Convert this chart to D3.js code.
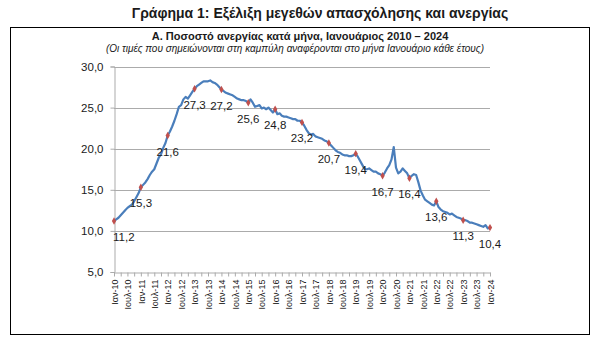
<!DOCTYPE html>
<html>
<head>
<meta charset="utf-8">
<script src="https://cdn.jsdelivr.net/npm/d3@7"></script>
<style>
  html, body { margin: 0; padding: 0; background: #fff; }
  svg { display: block; font-family: "Liberation Sans", Arial, sans-serif; }
</style>
</head>
<body>
<svg id="chart" width="602" height="340"></svg>
<script>
// Monthly unemployment rate (%), January 2010 – January 2024, one row per year
const rates2010 = [11.2, 11.4, 11.6, 11.9, 12.2, 12.5, 12.8, 13.0, 13.2, 13.6, 14.1, 14.6];
const rates2011 = [15.3, 15.6, 15.9, 16.3, 16.8, 17.2, 17.5, 18.2, 18.9, 19.3, 20.1, 20.7];
const rates2012 = [21.6, 22.1, 22.7, 23.4, 24.2, 25.1, 25.3, 26.0, 26.3, 26.1, 26.5, 26.9];
const rates2013 = [27.3, 27.6, 27.8, 28.0, 28.2, 28.2, 28.2, 28.3, 28.1, 28.0, 27.8, 27.5];
const rates2014 = [27.2, 27.0, 26.8, 26.7, 26.6, 26.5, 26.3, 26.1, 26.0, 25.9, 25.9, 25.8];
const rates2015 = [25.6, 26.0, 25.6, 25.1, 25.2, 25.3, 24.9, 25.0, 24.8, 25.0, 24.7, 24.4];
const rates2016 = [24.8, 24.2, 24.3, 24.0, 23.9, 23.9, 23.8, 23.7, 23.6, 23.6, 23.4, 23.4];
const rates2017 = [23.2, 22.8, 22.3, 21.9, 21.7, 21.8, 21.5, 21.4, 21.3, 21.2, 21.0, 20.9];
const rates2018 = [20.7, 20.4, 20.1, 19.8, 19.6, 19.5, 19.3, 19.2, 19.2, 19.1, 19.1, 19.2];
const rates2019 = [19.4, 19.0, 18.5, 18.0, 17.5, 17.5, 17.6, 17.4, 17.2, 17.2, 17.0, 16.9];
const rates2020 = [16.7, 17.1, 17.6, 18.0, 18.7, 20.2, 17.7, 17.0, 17.2, 17.6, 17.3, 17.0];
const rates2021 = [16.4, 16.7, 16.9, 16.8, 15.9, 14.9, 14.3, 13.8, 13.6, 13.4, 13.2, 13.1];
const rates2022 = [13.6, 12.9, 12.6, 12.4, 12.3, 12.2, 12.0, 12.1, 11.9, 11.7, 11.6, 11.5];
const rates2023 = [11.3, 11.3, 11.2, 11.0, 11.0, 10.9, 10.8, 10.7, 10.6, 10.5, 10.7, 10.3];
const rates2024 = [10.4];

// Values printed next to the January markers
const januaryValues = [11.2, 15.3, 21.6, 27.3, 27.2, 25.6, 24.8, 23.2, 20.7, 19.4, 16.7, 16.4, 13.6, 11.3, 10.4];

const monthNames = ["Ιαν", "Φεβ", "Μαρ", "Απρ", "Μαϊ", "Ιουν", "Ιουλ", "Αυγ", "Σεπ", "Οκτ", "Νοε", "Δεκ"];
const startYear = 2010;
const yTicks = [5, 10, 15, 20, 25, 30];

const titleText = "Γράφημα 1: Εξέλιξη μεγεθών απασχόλησης και ανεργίας";
const chartTitle = "Α. Ποσοστό ανεργίας κατά μήνα, Ιανουάριος 2010 – 2024";
const chartNote = "(Οι τιμές που σημειώνονται στη καμπύλη αναφέρονται στο μήνα Ιανουάριο κάθε έτους)";

const rates = [].concat(rates2010, rates2011, rates2012, rates2013, rates2014, rates2015,
  rates2016, rates2017, rates2018, rates2019, rates2020, rates2021, rates2022, rates2023, rates2024);

// Category labels such as "Ιαν-10", "Ιουλ-10"
const periods = rates.map((_, i) => {
  const yy = String((startYear + Math.floor(i / 12)) % 100).padStart(2, "0");
  return monthNames[i % 12] + "-" + yy;
});
const data = rates.map((v, i) => ({ period: periods[i], value: v, index: i }));

const svg = d3.select("#chart");
const comma = d3.formatLocale({ decimal: ",", thousands: ".", grouping: [3], currency: ["", "€"] }).format(".1f");

const plot = { left: 114, right: 490, top: 66.5, bottom: 272 };

const x = d3.scalePoint().domain(periods).range([plot.left, plot.right]);
const y = d3.scaleLinear().domain([5, 30]).range([plot.bottom, plot.top]);

const gridColor = "#ababab";
const textColor = "#1a1a1a";

// Titles
svg.append("text").attr("x", 320).attr("y", 18).attr("text-anchor", "middle")
  .attr("font-size", 14).attr("font-weight", "bold").attr("fill", textColor).text(titleText);

svg.append("rect").attr("x", 10.5).attr("y", 27.5).attr("width", 579).attr("height", 307)
  .attr("fill", "none").attr("stroke", "#000").attr("stroke-width", 1);

svg.append("text").attr("x", 300).attr("y", 40).attr("text-anchor", "middle")
  .attr("font-size", 11).attr("font-weight", "bold").attr("fill", textColor).text(chartTitle);
svg.append("text").attr("x", 295).attr("y", 52).attr("text-anchor", "middle")
  .attr("font-size", 10).attr("font-style", "italic").attr("fill", textColor).text(chartNote);

// Horizontal gridlines
svg.append("g").selectAll("line").data(yTicks.filter(t => t > 5)).join("line")
  .attr("x1", plot.left).attr("x2", plot.right)
  .attr("y1", d => Math.round(y(d)) + 0.5).attr("y2", d => Math.round(y(d)) + 0.5)
  .attr("stroke", gridColor).attr("stroke-width", 1);

// Y axis
const yAxis = svg.append("g").attr("transform", `translate(${plot.left + 0.5},0)`)
  .call(d3.axisLeft(y).tickValues(yTicks).tickFormat(comma).tickSize(4).tickPadding(7));
yAxis.select(".domain").attr("stroke", gridColor);
yAxis.selectAll(".tick line").attr("stroke", gridColor);
yAxis.selectAll(".tick text").attr("font-size", 11.5).attr("fill", textColor)
  .attr("font-family", "Liberation Sans, Arial, sans-serif");

// X axis: ticks every quarter, labels every half-year
const quarterTicks = periods.filter((_, i) => i % 3 === 0);
const halfYearTicks = periods.filter((_, i) => i % 6 === 0);

const xTickAxis = svg.append("g").attr("transform", `translate(0,${Math.round(plot.bottom) + 0.5})`)
  .call(d3.axisBottom(x).tickValues(quarterTicks).tickFormat("").tickSize(4).tickSizeOuter(0));
xTickAxis.select(".domain").attr("stroke", gridColor);
xTickAxis.selectAll(".tick line").attr("stroke", gridColor);

const xLabelAxis = svg.append("g").attr("transform", `translate(0,${Math.round(plot.bottom) + 0.5})`)
  .call(d3.axisBottom(x).tickValues(halfYearTicks).tickSize(0).tickPadding(0));
xLabelAxis.select(".domain").remove();
xLabelAxis.selectAll(".tick text")
  .attr("font-size", 9).attr("fill", textColor)
  .attr("font-family", "Liberation Sans, Arial, sans-serif")
  .attr("transform", "rotate(-90)")
  .attr("text-anchor", "end")
  .attr("x", -7).attr("y", 0).attr("dy", "0.35em");

// Unemployment line
svg.append("path").datum(data)
  .attr("fill", "none").attr("stroke", "#4a7ebb").attr("stroke-width", 2.2)
  .attr("stroke-linejoin", "round").attr("stroke-linecap", "round")
  .attr("d", d3.line().x(d => x(d.period)).y(d => y(d.value)));

// January markers and value labels
const januaries = data.filter(d => d.index % 12 === 0);
svg.append("g").selectAll("path").data(januaries).join("path")
  .attr("transform", d => `translate(${x(d.period)},${y(d.value)})`)
  .attr("d", d3.symbol(d3.symbolDiamond, 16))
  .attr("fill", "#c0504d");

const labelGroup = svg.append("g").attr("font-size", 11.5).attr("fill", textColor)
  .attr("text-anchor", "middle");
labelGroup.selectAll("text").data(januaries).join("text")
  .attr("x", d => x(d.period)).attr("y", d => y(d.value) + 20)
  .text((d, i) => comma(januaryValues[i]))
  .each(function () {
    // keep labels inside the plot area
    const w = this.getComputedTextLength();
    const cx = +this.getAttribute("x");
    if (cx - w / 2 < plot.left - 1) this.setAttribute("x", plot.left - 1 + w / 2);
  });
</script>
</body>
</html>
